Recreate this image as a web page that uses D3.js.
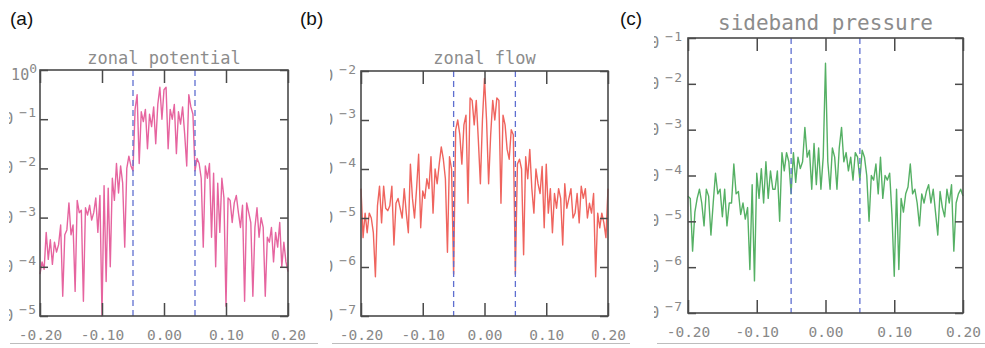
<!DOCTYPE html>
<html>
<head>
<meta charset="utf-8">
<script src="https://cdn.jsdelivr.net/npm/d3@7"></script>
<style>
  html, body { margin: 0; padding: 0; background: #fff; }
  svg { display: block; }
</style>
</head>
<body>
<svg id="chart" width="985" height="348"></svg>
<script>
// ---- data (log10 of amplitude, sampled uniformly from k = -0.20 to 0.20) ----
const xTickValues = [-0.20, -0.10, 0.00, 0.10, 0.20];
const dashedK = [-0.05, 0.05];
const panelLetters = ["(a)", "(b)", "(c)"];
const panelTitles = ["zonal potential", "zonal flow", "sideband pressure"];
const yDecadesA = [-5, -4, -3, -2, -1, 0];
const yDecadesB = [-7, -6, -5, -4, -3, -2];
const yDecadesC = [-7, -6, -5, -4, -3, -2, -1];

const zonalPotential = [
 -4.15,-3.9,-4.05,-3.3,-3.85,-3.45,-3.95,-3.5,-3.7,-3.55,-3.15,-4.6,-3.35,-3.25,-2.7,-3.35,-3.15,-4.5,-2.65,-2.9,
 -2.85,-4.7,-2.8,-2.95,-2.75,-3.05,-2.9,-2.6,-3.3,-2.55,-5.0,-2.35,-4.3,-2.4,-4.0,-2.2,-2.65,-1.9,-2.5,-1.95,
 -2.3,-3.6,-2.0,-1.75,-1.95,-2.05,-0.8,-0.5,-1.9,-0.85,-1.05,-0.8,-1.6,-0.9,-1.15,-0.75,-1.5,-0.7,-0.35,-1.0,
 -0.4,
 -0.35,-1.6,-0.8,-1.0,-0.7,-1.7,-0.85,-1.1,-0.75,-1.3,-1.95,-0.5,-0.75,-0.9,-2.05,-1.8,-1.9,-2.2,-3.6,-1.95,
 -2.2,-1.9,-3.4,-2.1,-4.0,-2.3,-3.3,-2.2,-2.6,-4.8,-2.6,-2.65,-3.1,-2.7,-2.55,-2.9,-3.2,-2.75,-4.7,-2.7,
 -2.9,-3.1,-4.6,-3.2,-2.8,-3.4,-3.0,-3.2,-4.6,-3.4,-3.5,-3.2,-3.9,-3.3,-3.6,-3.1,-4.0,-3.5,-3.9,-4.1
];

const zonalFlow = [
 -4.4,-5.4,-4.9,-5.3,-4.9,-5.0,-5.3,-6.2,-4.75,-4.35,-5.1,-4.35,-4.8,-4.85,-4.75,-4.35,-5.55,-4.7,-4.6,-4.8,
 -5.0,-4.4,-4.9,-5.3,-3.9,-4.6,-5.0,-4.4,-3.7,-5.2,-4.45,-4.6,-4.2,-4.4,-3.75,-4.9,-4.0,-4.3,-3.9,-3.55,
 -3.8,-4.2,-5.7,-3.75,-4.0,-6.15,-3.2,-3.0,-3.3,-3.9,-3.1,-2.9,-4.7,-2.55,-2.6,-3.1,-2.6,-3.4,-4.3,-3.0,
 -2.15,
 -3.0,-4.3,-3.3,-2.6,-3.0,-2.55,-2.6,-4.7,-2.9,-3.1,-3.6,-3.8,-3.2,-3.3,-6.15,-3.9,-3.8,-4.0,-5.75,-3.75,
 -4.2,-3.6,-4.4,-4.9,-4.0,-4.3,-4.5,-3.95,-5.2,-3.9,-4.9,-4.4,-5.3,-4.5,-4.8,-4.4,-4.6,-5.55,-4.3,-4.8,
 -4.6,-4.4,-5.0,-4.9,-4.5,-5.1,-4.35,-4.6,-4.4,-5.0,-4.7,-4.9,-4.5,-6.2,-4.9,-5.2,-4.9,-5.1,-5.4,-4.4
];

const sidebandPressure = [
 -4.45,-4.5,-5.65,-4.8,-4.5,-4.3,-4.6,-5.1,-4.3,-4.45,-5.3,-4.6,-3.95,-4.4,-4.3,-4.9,-4.3,-5.1,-4.6,-4.6,
 -3.75,-4.4,-4.35,-4.85,-4.6,-4.95,-4.7,-6.05,-4.2,-6.3,-3.95,-4.5,-3.85,-4.6,-3.7,-4.5,-3.9,-4.3,-4.3,-3.9,
 -5.0,-3.5,-3.9,-3.5,-3.7,-4.4,-3.5,-4.15,-3.6,-3.85,-3.7,-2.95,-3.6,-3.45,-4.3,-3.3,-4.2,-3.4,-4.3,-3.6,
 -1.55,
 -3.7,-4.3,-3.4,-3.6,-4.3,-3.4,-2.95,-3.7,-3.5,-3.9,-3.6,-4.1,-3.5,-3.6,-4.1,-3.45,-3.6,-4.0,-5.0,-4.0,
 -4.1,-3.75,-4.4,-3.6,-4.5,-4.0,-4.1,-3.95,-4.85,-6.2,-4.3,-6.05,-4.5,-4.8,-4.4,-4.25,-3.75,-4.4,-4.3,-4.6,
 -5.1,-4.4,-4.6,-4.35,-4.2,-4.6,-4.3,-4.8,-5.3,-4.35,-4.7,-4.9,-4.3,-4.6,-4.2,-5.65,-4.6,-4.4,-4.3,-4.45
];

// ---- layout ----
const panels = [
  { letter: panelLetters[0], title: panelTitles[0], values: zonalPotential, decades: yDecadesA,
    color: "#e6649f", x0: 40, x1: 288, y0: 70, y1: 316, clipX: 9, labelGap: 3,
    letterX: 10, titleY: 58, titleSize: 17 },
  { letter: panelLetters[1], title: panelTitles[1], values: zonalFlow, decades: yDecadesB,
    color: "#ef645e", x0: 361, x1: 608, y0: 71, y1: 316, clipX: 330, labelGap: 4,
    letterX: 300, titleY: 58, titleSize: 17 },
  { letter: panelLetters[2], title: panelTitles[2], values: sidebandPressure, decades: yDecadesC,
    color: "#55b064", x0: 688, x1: 963, y0: 38, y1: 313, clipX: 654, labelGap: 5,
    letterX: 620, titleY: 23, titleSize: 21 }
];
const sepLines = [[10, 318], [332, 630], [657, 985]];

const svg = d3.select("#chart");
const defs = svg.append("defs");
const monoFont = "'DejaVu Sans Mono', 'Liberation Mono', monospace";
const axisColor = "#4a4a4a";
const labelColor = "#888888";

sepLines.forEach(([a, b]) => {
  svg.append("line").attr("x1", a).attr("x2", b).attr("y1", 343.5).attr("y2", 343.5)
    .attr("stroke", "#bdbdbd").attr("stroke-width", 1.2);
});

panels.forEach((p, pi) => {
  // panel letter
  svg.append("text").attr("x", p.letterX).attr("y", 25)
    .attr("font-family", "'Liberation Sans', Arial, sans-serif").attr("font-size", 19)
    .attr("fill", "#111").text(p.letter);

  const clipId = "clip" + pi;
  defs.append("clipPath").attr("id", clipId).append("rect")
    .attr("x", p.clipX).attr("y", 0).attr("width", 985).attr("height", 348);
  const g = svg.append("g").attr("clip-path", `url(#${clipId})`);

  const x = d3.scaleLinear().domain([-0.2, 0.2]).range([p.x0, p.x1]);
  const idx = d3.scaleLinear().domain([0, p.values.length - 1]).range([-0.2, 0.2]);
  const yMin = d3.min(p.decades), yMax = d3.max(p.decades);
  const y = d3.scaleLog().domain([Math.pow(10, yMin), Math.pow(10, yMax)]).range([p.y1, p.y0]);
  const yTicks = p.decades.map(d => Math.pow(10, d));

  // title
  g.append("text").attr("x", (p.x0 + p.x1) / 2).attr("y", p.titleY)
    .attr("text-anchor", "middle").attr("dominant-baseline", "central")
    .attr("font-family", monoFont).attr("font-size", p.titleSize)
    .attr("fill", "#8c8c8c").text(p.title);

  // data line
  const line = d3.line()
    .x((d, i) => x(idx(i)))
    .y(d => y(Math.pow(10, d)));
  g.append("path").datum(p.values).attr("d", line)
    .attr("fill", "none").attr("stroke", p.color).attr("stroke-width", 1.4)
    .attr("stroke-linejoin", "round");

  // dashed lines
  g.selectAll(".dash").data(dashedK).enter().append("line")
    .attr("x1", d => x(d)).attr("x2", d => x(d))
    .attr("y1", p.y0).attr("y2", p.y1)
    .attr("stroke", "#5f6fd0").attr("stroke-width", 1.3).attr("stroke-dasharray", "6,4");

  // axes (ticks inward)
  const styleAxis = sel => {
    sel.select(".domain").remove();
    sel.selectAll(".tick line").attr("stroke", axisColor).attr("stroke-width", 1.5);
  };
  const bottom = g.append("g").attr("transform", `translate(0,${p.y1})`)
    .call(d3.axisBottom(x).tickValues(xTickValues).tickSizeInner(-13).tickSizeOuter(0).tickPadding(22)
      .tickFormat(d => d3.format(".2f")(d).replace("\u2212", "-")));
  styleAxis(bottom);
  bottom.selectAll(".tick text").attr("font-family", monoFont).attr("font-size", 14.5)
    .attr("fill", labelColor).attr("dy", 0).attr("y", 19).attr("dominant-baseline", "central");

  const top = g.append("g").attr("transform", `translate(0,${p.y0})`)
    .call(d3.axisTop(x).tickValues(xTickValues).tickSizeInner(-13).tickSizeOuter(0).tickFormat(""));
  styleAxis(top);

  const left = g.append("g").attr("transform", `translate(${p.x0},0)`)
    .call(d3.axisLeft(y).tickValues(yTicks).tickSizeInner(-8).tickSizeOuter(0).tickFormat(""));
  styleAxis(left);
  const right = g.append("g").attr("transform", `translate(${p.x1},0)`)
    .call(d3.axisRight(y).tickValues(yTicks).tickSizeInner(-8).tickSizeOuter(0).tickFormat(""));
  styleAxis(right);

  // y tick labels: 10 with superscript exponent
  p.decades.forEach(e => {
    const isTop = e === yMax;
    const t = g.append("text").attr("x", p.x0 - p.labelGap)
      .attr("y", y(Math.pow(10, e)) + (isTop ? 5 : 0))
      .attr("text-anchor", "end").attr("dominant-baseline", "central")
      .attr("font-family", monoFont).attr("fill", labelColor);
    t.append("tspan").attr("font-size", 15).text("10");
    t.append("tspan").attr("font-size", 13).attr("dy", -7)
      .attr("dx", e < 0 ? 6 : 0).attr("letter-spacing", e < 0 ? 1 : 0)
      .text(e < 0 ? "\u2212" + Math.abs(e) : String(e));
  });

  // frame
  g.append("rect").attr("x", p.x0).attr("y", p.y0)
    .attr("width", p.x1 - p.x0).attr("height", p.y1 - p.y0)
    .attr("fill", "none").attr("stroke", axisColor).attr("stroke-width", 1.6);
});
</script>
</body>
</html>
